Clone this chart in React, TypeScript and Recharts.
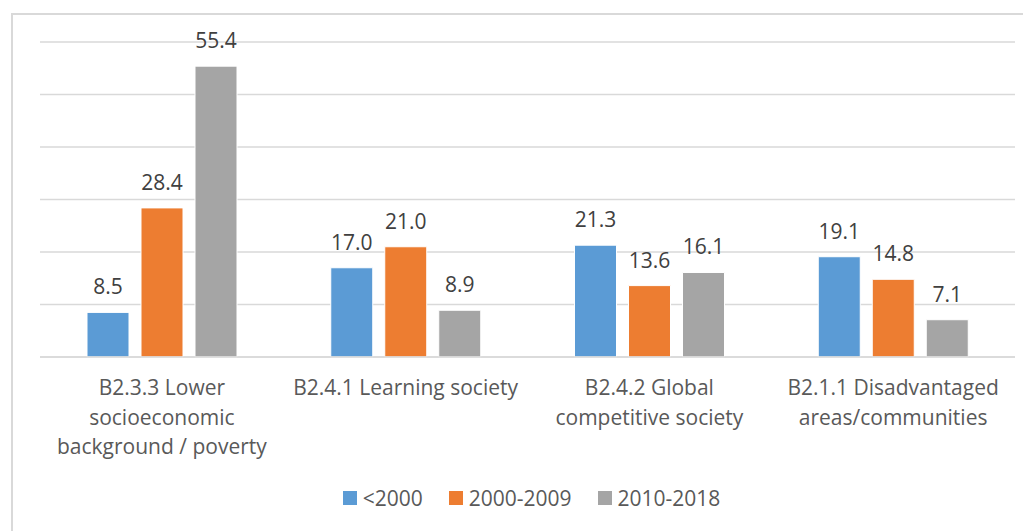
import React from 'react';
import { BarChart, Bar, XAxis, YAxis, CartesianGrid, Legend, LabelList } from 'recharts';

const categories = [
  'B2.3.3 Lower socioeconomic background / poverty',
  'B2.4.1 Learning society',
  'B2.4.2 Global competitive society',
  'B2.1.1 Disadvantaged areas/communities',
];

// how each category label wraps under the axis
const categoryLines = [
  ['B2.3.3 Lower', 'socioeconomic', 'background / poverty'],
  ['B2.4.1 Learning society'],
  ['B2.4.2 Global', 'competitive society'],
  ['B2.1.1 Disadvantaged', 'areas/communities'],
];

const before2000 = [8.5, 17.0, 21.3, 19.1];
const from2000to2009 = [28.4, 21.0, 13.6, 14.8];
const from2010to2018 = [55.4, 8.9, 16.1, 7.1];

const seriesNames = ['<2000', '2000-2009', '2010-2018'];
const seriesColors = ['#5b9bd5', '#ed7d31', '#a5a5a5'];

const yTicks = [0, 10, 20, 30, 40, 50, 60];

const data = categories.map((name, i) => ({
  name,
  lines: categoryLines[i],
  s0: before2000[i],
  s1: from2000to2009[i],
  s2: from2010to2018[i],
}));

const FONT = '"Open Sans", sans-serif';

const CategoryTick = (props: any) => {
  const { x, y, payload } = props;
  const lines = categoryLines[payload.index] ?? [payload.value];
  return (
    <g transform={`translate(${x},${y})`}>
      {lines.map((line: string, i: number) => (
        <text
          key={i}
          x={0}
          y={30 + i * 29.5}
          textAnchor="middle"
          fill="#595959"
          fontSize={21}
          fontFamily={FONT}
        >
          {line}
        </text>
      ))}
    </g>
  );
};

const LegendContent = () => (
  <div
    style={{
      display: 'flex',
      justifyContent: 'center',
      alignItems: 'center',
      fontFamily: FONT,
      fontSize: 21,
      color: '#595959',
      paddingLeft: 32,
    }}
  >
    {seriesNames.map((n, i) => (
      <div key={n} style={{ display: 'flex', alignItems: 'center', marginRight: i < 2 ? 26 : 0 }}>
        <span
          style={{
            display: 'inline-block',
            width: 14,
            height: 14,
            background: seriesColors[i],
            marginRight: 6,
          }}
        />
        <span>{n}</span>
      </div>
    ))}
  </div>
);

const fmt = (v: any) => Number(v).toFixed(1);

export default function App() {
  return (
    <div style={{ position: 'relative', width: 1023, height: 523, overflow: 'hidden', background: '#fff' }}>
      <div
        style={{
          position: 'absolute',
          left: 3,
          top: 5,
          width: 1040,
          height: 540,
          border: '2px solid #d9d9d9',
          boxSizing: 'border-box',
        }}
      />
      <div style={{ position: 'absolute', left: 0, top: 0 }}>
        <BarChart
          width={1015}
          height={515}
          data={data}
          margin={{ top: 34, right: 8, bottom: 0, left: 32 }}
          barCategoryGap={47}
          barGap={12}
        >
          <CartesianGrid vertical={false} stroke="#d9d9d9" strokeWidth={1.5} />
          <YAxis hide domain={[0, 60]} ticks={yTicks} />
          <XAxis
            dataKey="name"
            axisLine={{ stroke: '#d9d9d9', strokeWidth: 1.5 }}
            tickLine={false}
            tick={<CategoryTick />}
            height={136}
            interval={0}
          />
          <Legend
            content={<LegendContent />}
            wrapperStyle={{ top: 476, left: 0, width: 1015, height: 30 }}
          />
          {['s0', 's1', 's2'].map((k, i) => (
            <Bar
              key={k}
              dataKey={k}
              name={seriesNames[i]}
              fill={seriesColors[i]}
              stroke="#ffffff"
              strokeWidth={1}
              isAnimationActive={false}
            >
              <LabelList
                dataKey={k}
                position="top"
                offset={18}
                formatter={fmt}
                fill="#404040"
                fontSize={21}
                fontFamily={FONT}
              />
            </Bar>
          ))}
        </BarChart>
      </div>
    </div>
  );
}
